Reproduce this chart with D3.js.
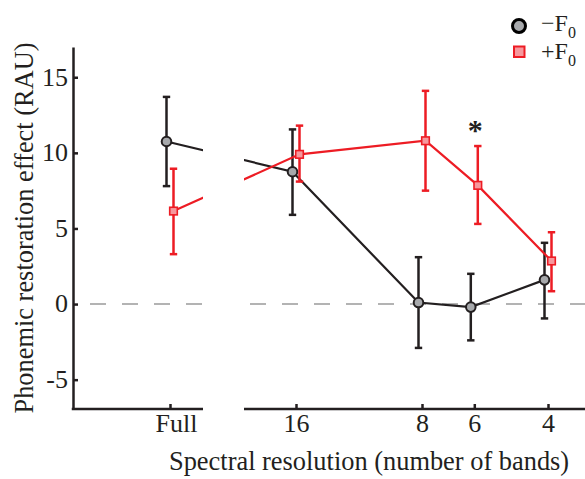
<!DOCTYPE html>
<html>
<head>
<meta charset="utf-8">
<script src="https://cdn.jsdelivr.net/npm/d3@7"></script>
<style>
  body { margin: 0; background: #ffffff; }
  text { font-family: "Liberation Serif", "DejaVu Serif", serif; fill: #231f20; }
</style>
</head>
<body>
<div id="chart"></div>
<script>
// data
const bandLabels = ["Full", "16", "8", "6", "4"];
const bandValues = [32, 16, 8, 6, 4];      // "Full" sits where 32 bands would be on the log axis
const minusF0 = [10.75, 8.75, 0.1, -0.2, 1.6];
const minusF0Lo = [7.8, 5.9, -2.9, -2.4, -0.95];
const minusF0Hi = [13.7, 11.55, 3.1, 2.0, 4.05];
const plusF0 = [6.15, 9.9, 10.8, 7.85, 2.85];
const plusF0Lo = [3.3, 8.1, 7.5, 5.3, 0.85];
const plusF0Hi = [8.95, 11.8, 14.1, 10.45, 4.75];
const yTicks = [-5, 0, 5, 10, 15];
const significant = [6];

const W = 585, H = 479;
const BLACK = "#231f20", GREY = "#a7a9ac", RED = "#ed1c24", PINK = "#f6989d";
const SERIF = "'Liberation Serif', 'DejaVu Serif', serif";

// the x axis is broken between "Full" and 16
const panels = [[73, 203], [244, 585]];

const svg = d3.select("#chart").append("svg")
    .attr("width", W)
    .attr("height", H);

const x = d3.scaleLog().base(2).domain([32, 4]).range([170, 548]);
const y = d3.scaleLinear().domain([-6.94, 17]).range([409, 47]);

// clip for the connecting lines so they vanish in the break
const clip = svg.append("clipPath").attr("id", "panels");
panels.forEach(function (p) {
    clip.append("rect")
        .attr("x", p[0]).attr("y", 0)
        .attr("width", p[1] - p[0]).attr("height", H);
});

// zero reference
svg.append("line")
    .attr("clip-path", "url(#panels)")
    .attr("x1", 74).attr("x2", W)
    .attr("y1", y(0)).attr("y2", y(0))
    .attr("stroke", "#b3b3b3")
    .attr("stroke-width", 2)
    .attr("stroke-dasharray", "16,16")
    .attr("stroke-dashoffset", 16);

// y axis
const yAxis = d3.axisLeft(y).tickValues(yTicks)
    .tickFormat(function (d) { return String(d); })
    .tickSize(-5).tickSizeOuter(0).tickPadding(5);
const yAxisEL = svg.append("g")
    .attr("transform", "translate(73,0)")
    .call(yAxis)
    .attr("font-family", SERIF)
    .attr("font-size", 26);
yAxisEL.select(".domain").attr("stroke", BLACK).attr("stroke-width", 2.5);
yAxisEL.selectAll(".tick line").attr("stroke", BLACK).attr("stroke-width", 2.5);
yAxisEL.selectAll(".tick text")
    .attr("fill", BLACK)
    .attr("dy", "0.3em");

// x axis, drawn as two pieces
const xAxis = d3.axisBottom(x)
    .tickValues(bandValues)
    .tickFormat(function (d, i) { return bandLabels[i]; })
    .tickSize(-5).tickSizeOuter(0).tickPadding(5);
const xAxisEL = svg.append("g")
    .attr("transform", "translate(0,409)")
    .call(xAxis)
    .attr("font-family", SERIF)
    .attr("font-size", 26);
xAxisEL.select(".domain").remove();
xAxisEL.selectAll(".tick line").attr("stroke", BLACK).attr("stroke-width", 2.5);
xAxisEL.selectAll(".tick text")
    .attr("fill", BLACK)
    .attr("dx", function (d) { return d === 32 ? 6 : 0; });
panels.forEach(function (p) {
    xAxisEL.append("line")
        .attr("x1", p[0] - (p[0] === 73 ? 1.25 : 0)).attr("x2", p[1])
        .attr("y1", 0).attr("y2", 0)
        .attr("stroke", BLACK).attr("stroke-width", 2.5);
});

// series
function drawSeries(vals, lo, hi, color, fill, dx, shape) {
    const pts = bandValues.map(function (b, i) {
        return { x: x(b) + dx, v: vals[i], lo: lo[i], hi: hi[i] };
    });
    const g = svg.append("g");

    g.append("path")
        .datum(pts)
        .attr("clip-path", "url(#panels)")
        .attr("fill", "none")
        .attr("stroke", color)
        .attr("stroke-width", 2.2)
        .attr("d", d3.line().x(function (d) { return d.x; }).y(function (d) { return y(d.v); }));

    const err = g.selectAll(".err").data(pts).enter().append("g")
        .attr("stroke", color).attr("stroke-width", 2.5);
    err.append("line")
        .attr("x1", function (d) { return d.x; }).attr("x2", function (d) { return d.x; })
        .attr("y1", function (d) { return y(d.lo); }).attr("y2", function (d) { return y(d.hi); });
    err.append("line")
        .attr("x1", function (d) { return d.x - 3.7; }).attr("x2", function (d) { return d.x + 3.7; })
        .attr("y1", function (d) { return y(d.lo); }).attr("y2", function (d) { return y(d.lo); });
    err.append("line")
        .attr("x1", function (d) { return d.x - 3.7; }).attr("x2", function (d) { return d.x + 3.7; })
        .attr("y1", function (d) { return y(d.hi); }).attr("y2", function (d) { return y(d.hi); });

    if (shape === "circle") {
        g.selectAll(".pt").data(pts).enter().append("circle")
            .attr("cx", function (d) { return d.x; })
            .attr("cy", function (d) { return y(d.v); })
            .attr("r", 4.8)
            .attr("fill", fill).attr("stroke", color).attr("stroke-width", 2);
    } else {
        g.selectAll(".pt").data(pts).enter().append("rect")
            .attr("x", function (d) { return d.x - 3.8; })
            .attr("y", function (d) { return y(d.v) - 3.8; })
            .attr("width", 7.6).attr("height", 7.6)
            .attr("fill", fill).attr("stroke", color).attr("stroke-width", 1.6);
    }
}

drawSeries(minusF0, minusF0Lo, minusF0Hi, BLACK, GREY, -3.5, "circle");
drawSeries(plusF0, plusF0Lo, plusF0Hi, RED, PINK, 3.5, "square");

// significance marker
significant.forEach(function (b) {
    const i = bandValues.indexOf(b);
    svg.append("text")
        .attr("x", x(b) + 1)
        .attr("y", y(plusF0Hi[i]) - 6)
        .attr("text-anchor", "middle")
        .attr("font-size", 30)
        .attr("font-weight", "bold")
        .text("*");
});

// axis titles
svg.append("text")
    .attr("x", 169).attr("y", 470)
    .attr("font-size", 26.4)
    .text("Spectral resolution (number of bands)");

svg.append("text")
    .attr("transform", "translate(33,228) rotate(-90)")
    .attr("text-anchor", "middle")
    .attr("font-size", 26.4)
    .text("Phonemic restoration effect (RAU)");

// legend
const legend = svg.append("g");
legend.append("circle")
    .attr("cx", 519).attr("cy", 26).attr("r", 6.5)
    .attr("fill", GREY).attr("stroke", "#000").attr("stroke-width", 3);
legend.append("rect")
    .attr("x", 514).attr("y", 46.5).attr("width", 10.5).attr("height", 10.5)
    .attr("fill", PINK).attr("stroke", RED).attr("stroke-width", 2);

const legendItems = [["\u2212F", 31], ["+F", 59]];
legendItems.forEach(function (it) {
    const t = legend.append("text")
        .attr("x", 541).attr("y", it[1])
        .attr("font-size", 24);
    t.append("tspan").text(it[0]);
    t.append("tspan").attr("font-size", 16).attr("dy", 7).text("0");
});
</script>
</body>
</html>
